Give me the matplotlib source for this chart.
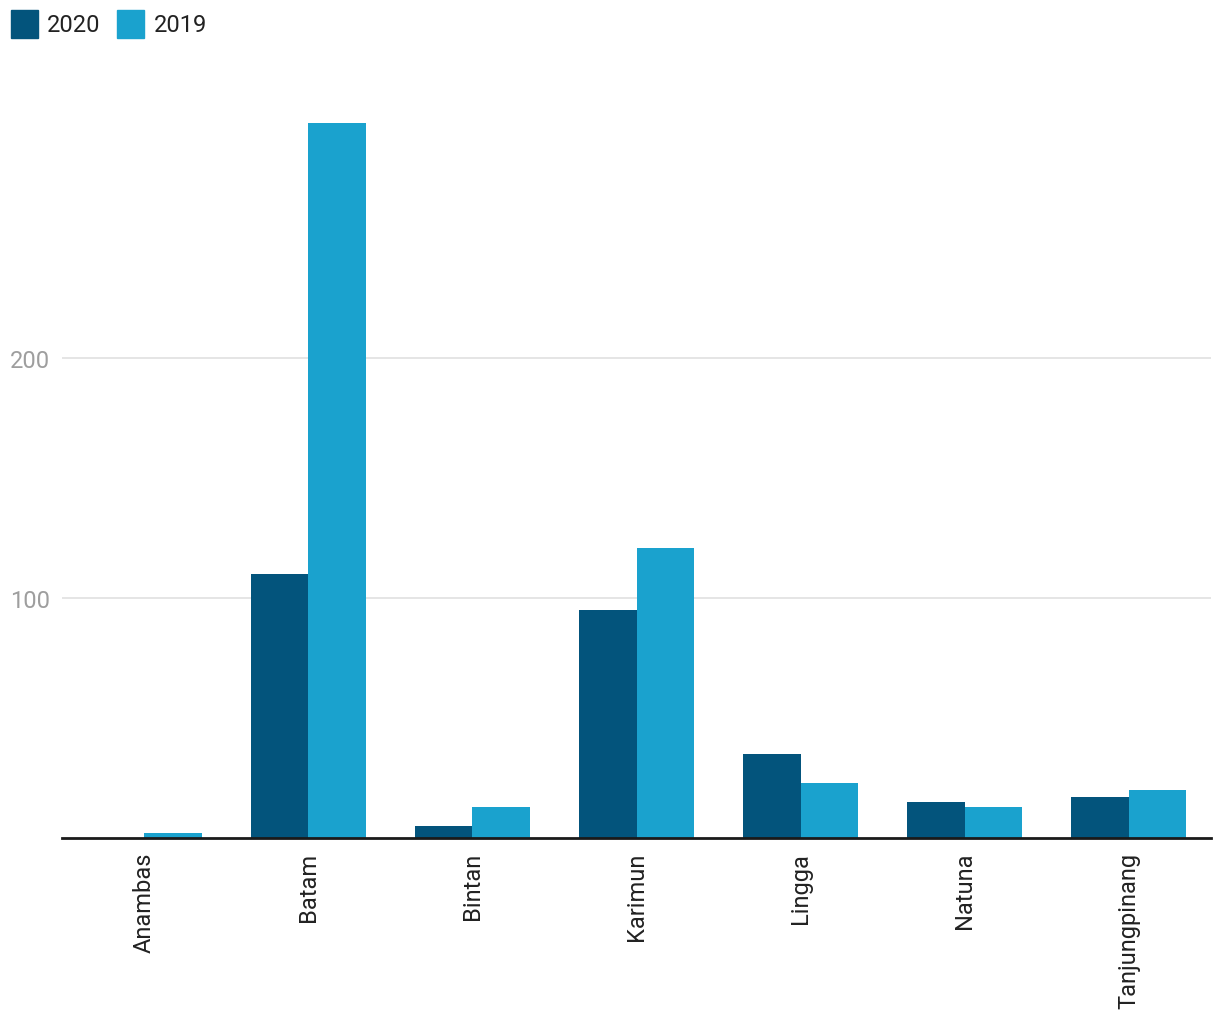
import matplotlib.pyplot as plt
import numpy as np
from matplotlib.patches import Patch

plt.rcParams['font.family'] = ['Roboto', 'DejaVu Sans']

regions = ["Anambas", "Batam", "Bintan", "Karimun", "Lingga", "Natuna", "Tanjungpinang"]
values_2020 = [0, 110, 5, 95, 35, 15, 17]
values_2019 = [2, 298, 13, 121, 23, 13, 20]

color_2020 = '#03547c'
color_2019 = '#1aa2ce'

fig = plt.figure(figsize=(12.2, 10.2), dpi=100)
ax = fig.add_axes([62 / 1220, 181 / 1020, 1149 / 1220, 739 / 1020])

x = np.arange(len(regions))
w = 0.35
ax.bar(x - w / 2, values_2020, w, color=color_2020, zorder=2)
ax.bar(x + w / 2, values_2019, w, color=color_2019, zorder=2)

ax.set_xlim(-0.5, len(regions) - 0.5)
ax.set_ylim(0, 739 / 2.4)
ax.set_yticks([100, 200])
ax.grid(axis='y', color='#e0e0e0', linewidth=1.2, zorder=0)
ax.tick_params(axis='y', length=0, labelsize=17, labelcolor='#9e9e9e', pad=8.5)

ax.set_xticks(x)
ax.set_xticklabels(regions, rotation=90, fontsize=17, color='#222222')
ax.tick_params(axis='x', length=0, pad=10)

for side in ['top', 'right', 'left']:
    ax.spines[side].set_visible(False)
ax.spines['bottom'].set_color('#1a1a1a')
ax.spines['bottom'].set_linewidth(2)
ax.spines['bottom'].set_zorder(3)

handles = [Patch(color=color_2020, label='2020'), Patch(color=color_2019, label='2019')]
fig.legend(handles=handles, loc='upper left', bbox_to_anchor=(0.0, 1.0), ncol=2,
           frameon=False, fontsize=17, handlelength=1.15, handleheight=1.45,
           handletextpad=0.4, columnspacing=0.7, borderaxespad=0.0, borderpad=0.45,
           labelcolor='#222222')

plt.savefig('out.png', dpi=100)
